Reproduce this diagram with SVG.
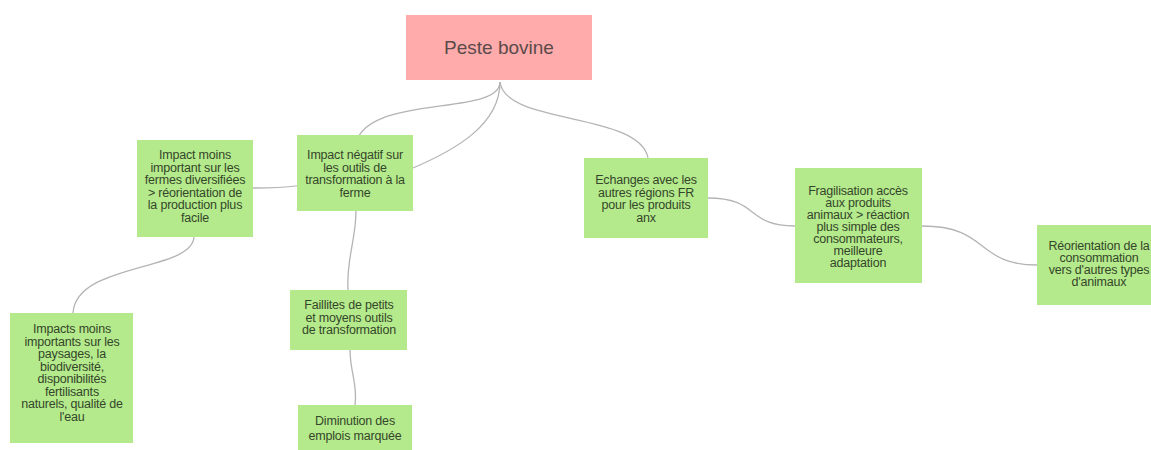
<svg xmlns="http://www.w3.org/2000/svg" width="1151" height="450" viewBox="0 0 1151 450">
  <style>
    .bg { fill: #ffffff; }
    .link { fill: none; stroke: #b4b4b4; stroke-width: 1.3; }
    .root rect { fill: #ffabab; }
    .root text { font-family: "Liberation Sans", Arial, sans-serif; font-size: 19px; fill: #5a4a4a; text-anchor: middle; }
    .leaf rect { fill: #b5ea8c; }
    .leaf text { font-family: "Liberation Sans", Arial, sans-serif; font-size: 12.5px; letter-spacing: -0.2px; fill: #34462a; text-anchor: middle; }
  </style>
  <rect class="bg" x="0" y="0" width="1151" height="450"/>

  <!-- connectors, drawn under the boxes -->
  <g id="connectors">
    <path class="link" d="M500,82 C500,118 356,92 355,150 C355,178 320,188 253,188"/>
    <path class="link" d="M500,82 C500,125 455,150 413,168"/>
    <path class="link" d="M500,82 C505,125 640,112 648,158"/>
    <path class="link" d="M356,211 C356,240 346,260 348,290"/>
    <path class="link" d="M350,350 C350,372 358,385 355,405"/>
    <path class="link" d="M194,236 C194,272 76,262 73,313"/>
    <path class="link" d="M708,198 C760,198 745,226 795,226"/>
    <path class="link" d="M922,226 C990,226 975,265 1037,265"/>
  </g>

  <g id="peste-bovine" class="root">
    <rect x="406" y="15" width="186" height="65"/>
    <text x="499" y="54">Peste bovine</text>
  </g>

  <g id="fermes-diversifiees" class="leaf">
    <rect x="137" y="140" width="116" height="97"/>
    <text x="195" y="159">Impact moins</text>
    <text x="195" y="171.5">important sur les</text>
    <text x="195" y="184">fermes diversifiées</text>
    <text x="195" y="196.5">&gt; réorientation de</text>
    <text x="195" y="209">la production plus</text>
    <text x="195" y="221.5">facile</text>
  </g>

  <g id="outils-transformation" class="leaf">
    <rect x="297" y="135" width="116" height="76"/>
    <text x="355" y="159">Impact négatif sur</text>
    <text x="355" y="171.5">les outils de</text>
    <text x="355" y="184">transformation à la</text>
    <text x="355" y="196.5">ferme</text>
  </g>

  <g id="echanges-regions" class="leaf">
    <rect x="584" y="158" width="124" height="80"/>
    <text x="646" y="184">Echanges avec les</text>
    <text x="646" y="196.5">autres régions FR</text>
    <text x="646" y="209">pour les produits</text>
    <text x="646" y="221.5">anx</text>
  </g>

  <g id="fragilisation" class="leaf">
    <rect x="795" y="168" width="127" height="115"/>
    <text x="858" y="195">Fragilisation accès</text>
    <text x="858" y="207">aux produits</text>
    <text x="858" y="219">animaux &gt; réaction</text>
    <text x="858" y="231">plus simple des</text>
    <text x="858" y="243">consommateurs,</text>
    <text x="858" y="255">meilleure</text>
    <text x="858" y="267">adaptation</text>
  </g>

  <g id="reorientation-consommation" class="leaf">
    <rect x="1037" y="225" width="124" height="80"/>
    <text x="1099" y="250">Réorientation de la</text>
    <text x="1099" y="262">consommation</text>
    <text x="1099" y="274">vers d'autres types</text>
    <text x="1099" y="286">d'animaux</text>
  </g>

  <g id="paysages" class="leaf">
    <rect x="10" y="313" width="123" height="130"/>
    <text x="72" y="333">Impacts moins</text>
    <text x="72" y="345.5">importants sur les</text>
    <text x="72" y="358">paysages, la</text>
    <text x="72" y="370.5">biodiversité,</text>
    <text x="72" y="383">disponibilités</text>
    <text x="72" y="395.5">fertilisants</text>
    <text x="72" y="408">naturels, qualité de</text>
    <text x="72" y="420.5">l'eau</text>
  </g>

  <g id="faillites" class="leaf">
    <rect x="290" y="290" width="117" height="60"/>
    <text x="349" y="309">Faillites de petits</text>
    <text x="349" y="321.5">et moyens outils</text>
    <text x="349" y="334">de transformation</text>
  </g>

  <g id="diminution-emplois" class="leaf">
    <rect x="298" y="405" width="114" height="48"/>
    <text x="355" y="425">Diminution des</text>
    <text x="355" y="440">emplois marquée</text>
  </g>
</svg>
